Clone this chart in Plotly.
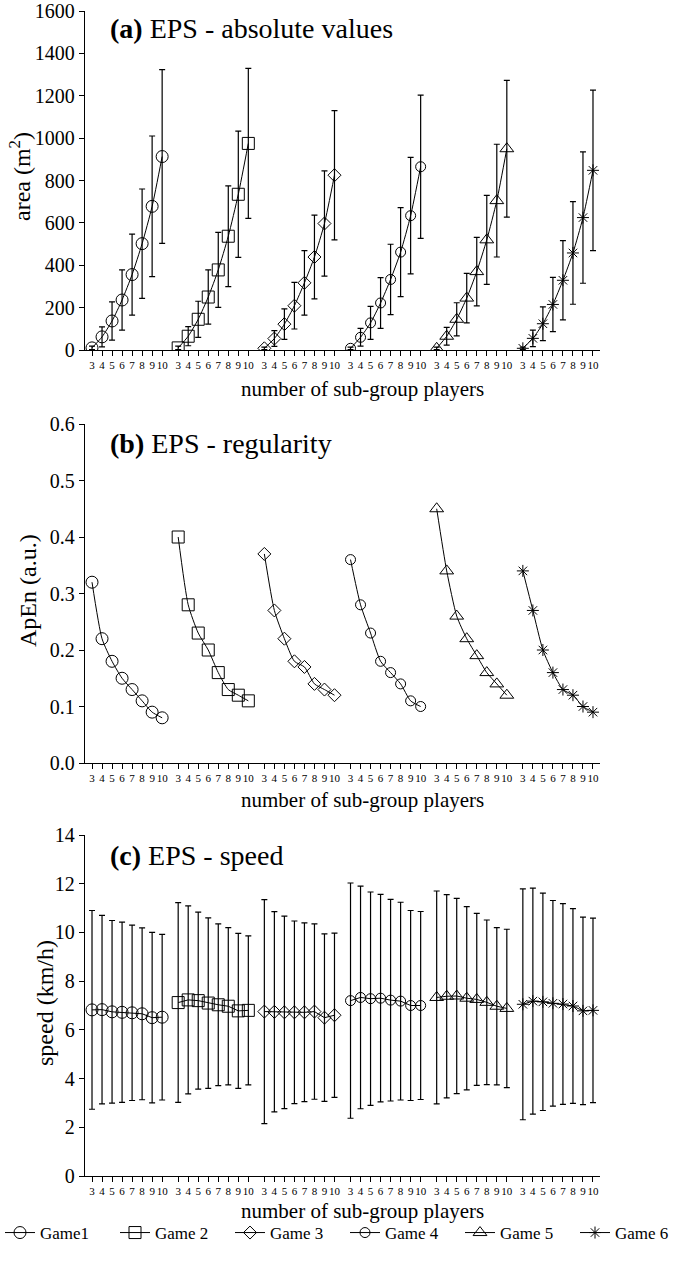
import plotly.graph_objects as go

players = [3, 4, 5, 6, 7, 8, 9, 10]
games = ["Game1", "Game 2", "Game 3", "Game 4", "Game 5", "Game 6"]
symbols = ["circle-open", "square-open", "diamond-open", "circle-open", "triangle-up-open", "asterisk-open"]
msizes = [12, 12, 10, 10, 12, 10]

# (a) area mean and SD
area_g1 = [10, 62, 137, 236, 356, 502, 678, 913]
area_g2 = [10, 65, 145, 250, 378, 537, 735, 975]
area_g3 = [8, 54, 122, 209, 317, 439, 597, 825]
area_g4 = [8, 60, 128, 222, 333, 462, 634, 865]
area_g5 = [8, 65, 145, 245, 370, 520, 705, 950]
area_g6 = [8, 55, 124, 215, 329, 458, 625, 848]
area_sd_g1 = [8, 47, 90, 142, 191, 258, 332, 410]
area_sd_g2 = [8, 45, 85, 128, 177, 238, 298, 354]
area_sd_g3 = [6, 37, 72, 110, 152, 198, 248, 305]
area_sd_g4 = [6, 42, 78, 120, 166, 210, 275, 338]
area_sd_g5 = [6, 42, 78, 117, 162, 210, 266, 323]
area_sd_g6 = [6, 39, 80, 128, 187, 242, 310, 379]

# (b) ApEn
apen_g1 = [0.32, 0.22, 0.18, 0.15, 0.13, 0.11, 0.09, 0.08]
apen_g2 = [0.40, 0.28, 0.23, 0.20, 0.16, 0.13, 0.12, 0.11]
apen_g3 = [0.37, 0.27, 0.22, 0.18, 0.17, 0.14, 0.13, 0.12]
apen_g4 = [0.36, 0.28, 0.23, 0.18, 0.16, 0.14, 0.11, 0.10]
apen_g5 = [0.45, 0.34, 0.26, 0.22, 0.19, 0.16, 0.14, 0.12]
apen_g6 = [0.34, 0.27, 0.20, 0.16, 0.13, 0.12, 0.10, 0.09]

# (c) speed mean and SD
speed_g1 = [6.82, 6.83, 6.74, 6.72, 6.70, 6.66, 6.50, 6.52]
speed_g2 = [7.12, 7.23, 7.20, 7.10, 7.03, 6.97, 6.78, 6.80]
speed_g3 = [6.75, 6.74, 6.72, 6.72, 6.72, 6.75, 6.50, 6.60]
speed_g4 = [7.20, 7.33, 7.28, 7.30, 7.22, 7.18, 7.00, 7.00]
speed_g5 = [7.33, 7.38, 7.39, 7.30, 7.25, 7.13, 6.97, 6.88]
speed_g6 = [7.05, 7.18, 7.15, 7.09, 7.06, 6.98, 6.78, 6.80]
speed_sd_g1 = [4.08, 3.87, 3.75, 3.70, 3.60, 3.53, 3.50, 3.40]
speed_sd_g2 = [4.10, 3.86, 3.63, 3.50, 3.32, 3.23, 3.18, 3.06]
speed_sd_g3 = [4.60, 4.11, 3.95, 3.75, 3.67, 3.60, 3.44, 3.37]
speed_sd_g4 = [4.83, 4.57, 4.38, 4.26, 4.14, 4.06, 3.90, 3.86]
speed_sd_g5 = [4.37, 4.17, 4.01, 3.76, 3.53, 3.38, 3.23, 3.25]
speed_sd_g6 = [4.74, 4.64, 4.46, 4.22, 4.12, 4.00, 3.85, 3.79]

area = [area_g1, area_g2, area_g3, area_g4, area_g5, area_g6]
area_sd = [area_sd_g1, area_sd_g2, area_sd_g3, area_sd_g4, area_sd_g5, area_sd_g6]
apen = [apen_g1, apen_g2, apen_g3, apen_g4, apen_g5, apen_g6]
speed = [speed_g1, speed_g2, speed_g3, speed_g4, speed_g5, speed_g6]
speed_sd = [speed_sd_g1, speed_sd_g2, speed_sd_g3, speed_sd_g4, speed_sd_g5, speed_sd_g6]

GROUP_STEP = 8.6
def xpos(g):
    return [g * GROUP_STEP + (n - 3) for n in players]

all_x = [v for g in range(6) for v in xpos(g)]
all_text = [str(n) for g in range(6) for n in players]

FONT = "Liberation Serif"
H = 1263.0
W = 697.0
def py(px):
    return 1 - px / H

fig = go.Figure()

panels = [
    ("x", "y", area, area_sd, "spline"),
    ("x2", "y2", apen, None, "spline"),
    ("x3", "y3", speed, speed_sd, "linear"),
]
for pi, (xa, ya, vals, sds, shape) in enumerate(panels):
    for g in range(6):
        err = None
        if sds is not None:
            err = dict(type="data", array=sds[g], visible=True, color="black",
                       thickness=1.2, width=3)
        fig.add_trace(go.Scatter(
            x=xpos(g), y=vals[g], xaxis=xa, yaxis=ya,
            mode="lines+markers", name=games[g],
            showlegend=(pi == 0),
            line=dict(color="black", width=1, shape=shape, smoothing=0.6),
            marker=dict(symbol=symbols[g], size=msizes[g], color="black",
                        line=dict(color="black", width=1)),
            error_y=err,
        ))

xdom = [85 / W, 600 / W]
xaxis_common = dict(
    range=[-0.7, 5 * GROUP_STEP + 7.7], tickmode="array", tickvals=all_x, ticktext=all_text,
    ticks="outside", ticklen=5, tickwidth=1, tickcolor="black", tickangle=0,
    showline=True, linecolor="black", linewidth=1.3, showgrid=False, zeroline=False,
    tickfont=dict(family=FONT, size=11, color="black"), domain=xdom, automargin=False,
)
yaxis_common = dict(
    ticks="outside", ticklen=5, tickwidth=1, tickcolor="black",
    showline=True, linecolor="black", linewidth=1.3, showgrid=False, zeroline=False,
    tickfont=dict(family=FONT, size=20, color="black"), automargin=False,
)

fig.update_layout(
    width=697, height=1263,
    margin=dict(l=0, r=0, t=0, b=0, pad=0, autoexpand=False),
    paper_bgcolor="white", plot_bgcolor="white",
    font=dict(family=FONT, color="black"),
    xaxis=dict(**xaxis_common, anchor="y"),
    xaxis2=dict(**xaxis_common, anchor="y2"),
    xaxis3=dict(**xaxis_common, anchor="y3"),
    yaxis=dict(**yaxis_common, range=[0, 1600], dtick=200, tick0=0,
               domain=[py(350), py(11)], anchor="x"),
    yaxis2=dict(**yaxis_common, range=[0, 0.6], dtick=0.1, tick0=0, tickformat=".1f",
                domain=[py(763), py(424)], anchor="x2"),
    yaxis3=dict(**yaxis_common, range=[0, 14], dtick=2, tick0=0,
                domain=[py(1176), py(835)], anchor="x3"),
    showlegend=True,
    legend=dict(orientation="h", x=0, xanchor="left", y=py(1233), yanchor="middle",
                font=dict(family=FONT, size=17, color="black"), bgcolor="rgba(0,0,0,0)",
                itemwidth=30, entrywidth=70, entrywidthmode="pixels", tracegroupgap=0),
)

anns = [
    ("<b>(a)</b> EPS - absolute values", 108, 28),
    ("<b>(b)</b> EPS - regularity", 108, 443),
    ("<b>(c)</b> EPS - speed", 108, 855),
]
for txt, x, y in anns:
    fig.add_annotation(text=txt, x=x / W, y=py(y), xref="paper", yref="paper",
                       xanchor="left", yanchor="middle", showarrow=False,
                       font=dict(family=FONT, size=28, color="black"))

for y in [389, 800, 1211]:
    fig.add_annotation(text="number of sub-group players", x=363 / W, y=py(y),
                       xref="paper", yref="paper", xanchor="center", yanchor="middle",
                       showarrow=False, font=dict(family=FONT, size=21, color="black"))

ytitles = [("area (m<sup>2</sup>)", 20, 177), ("ApEn (a.u.)", 28, 590), ("speed (km/h)", 45, 1003)]
for txt, x, y in ytitles:
    fig.add_annotation(text=txt, x=x / W, y=py(y), xref="paper", yref="paper",
                       xanchor="center", yanchor="middle", textangle=-90, showarrow=False,
                       font=dict(family=FONT, size=24, color="black"))

fig.write_html("out.html", config={"displayModeBar": False},
               post_script="document.body.style.margin='0px';")
